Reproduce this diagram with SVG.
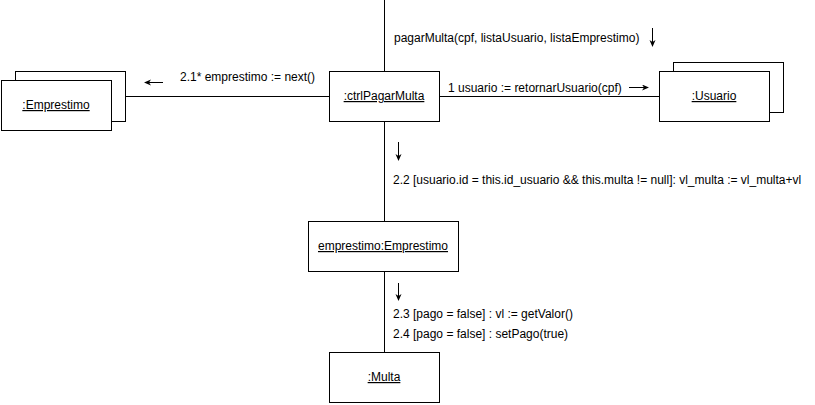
<svg xmlns="http://www.w3.org/2000/svg" width="815" height="405" viewBox="0 0 815 405">
<style>
.box{fill:#fff;stroke:#000;stroke-width:1}
.ln{stroke:#000;stroke-width:1;fill:none}
.t{font-family:"Liberation Sans",Arial,sans-serif;font-size:12px;fill:#000}
.u{text-decoration:underline}
.m{text-anchor:middle}
</style>
<defs>
<marker id="ah" markerWidth="8" markerHeight="8" refX="6" refY="3" orient="auto" markerUnits="userSpaceOnUse">
<path d="M0,0 L7,3 L0,6 L2,3 Z" fill="#000"/>
</marker>
</defs>
<rect width="815" height="405" fill="#fff"/>
<g id="connectors">
<line class="ln" x1="384.5" y1="0" x2="384.5" y2="71"/>
<line class="ln" x1="125" y1="96.5" x2="329" y2="96.5"/>
<line class="ln" x1="439" y1="96.5" x2="659" y2="96.5"/>
<line class="ln" x1="384.5" y1="121" x2="384.5" y2="221"/>
<line class="ln" x1="384.5" y1="271" x2="384.5" y2="352"/>
<line class="ln" x1="163" y1="82.5" x2="145" y2="82.5" marker-end="url(#ah)"/>
<line class="ln" x1="629" y1="87.5" x2="648" y2="87.5" marker-end="url(#ah)"/>
<line class="ln" x1="652.5" y1="28" x2="652.5" y2="46" marker-end="url(#ah)"/>
<line class="ln" x1="398.5" y1="142" x2="398.5" y2="160" marker-end="url(#ah)"/>
<line class="ln" x1="398.5" y1="283" x2="398.5" y2="300" marker-end="url(#ah)"/>
<text class="t" x="180" y="81">2.1* emprestimo := next()</text>
<text class="t" x="394" y="42">pagarMulta(cpf, listaUsuario, listaEmprestimo)</text>
<text class="t" x="448" y="92">1 usuario := retornarUsuario(cpf)</text>
<text class="t" x="393" y="184">2.2 [usuario.id = this.id_usuario &amp;&amp; this.multa != null]: vl_multa := vl_multa+vl</text>
<text class="t" x="393" y="318">2.3 [pago = false] : vl := getValor()</text>
<text class="t" x="393" y="338">2.4 [pago = false] : setPago(true)</text>
</g>
<g id="emprestimos">
<rect class="box" x="15.5" y="71.5" width="110" height="50"/>
<rect class="box" x="1.5" y="80.5" width="110" height="50"/>
<text class="t u m" x="56" y="109">:Emprestimo</text>
</g>
<g id="ctrlPagarMulta">
<rect class="box" x="329.5" y="71.5" width="110" height="50"/>
<text class="t u m" x="384" y="100">:ctrlPagarMulta</text>
</g>
<g id="usuarios">
<rect class="box" x="673.5" y="62.5" width="110" height="50"/>
<rect class="box" x="659.5" y="71.5" width="110" height="50"/>
<text class="t u m" x="714" y="100">:Usuario</text>
</g>
<g id="emprestimo">
<rect class="box" x="308.5" y="221.5" width="150" height="50"/>
<text class="t u m" x="383" y="250">emprestimo:Emprestimo</text>
</g>
<g id="multa">
<rect class="box" x="329.5" y="352.5" width="110" height="50"/>
<text class="t u m" x="384" y="381">:Multa</text>
</g>
</svg>
